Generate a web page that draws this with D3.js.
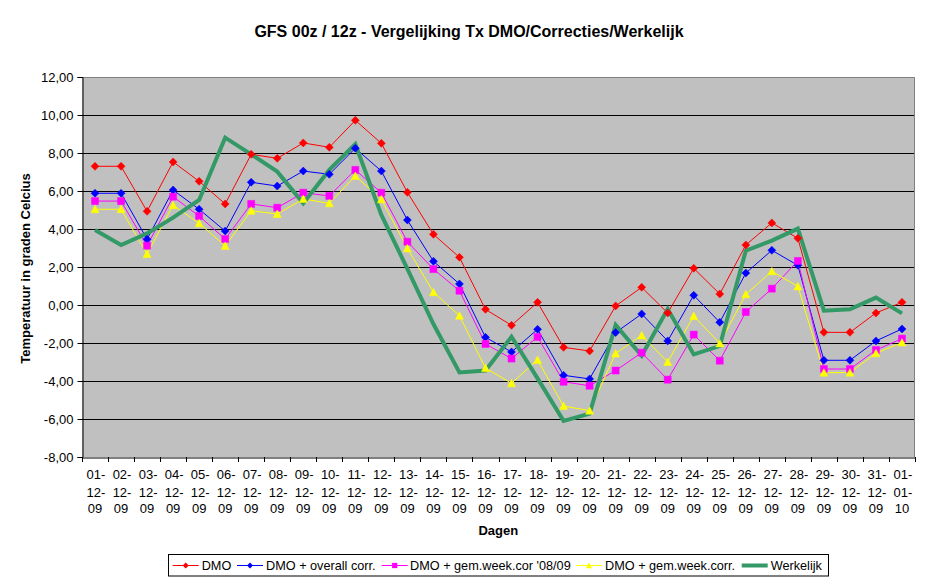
<!DOCTYPE html>
<html><head><meta charset="utf-8">
<script src="https://cdn.jsdelivr.net/npm/d3@7"></script>
<style>
body{margin:0;background:#fff;}
svg{display:block;font-family:"Liberation Sans",Arial,sans-serif;}
</style></head>
<body><svg id="c" width="942" height="585"></svg>
<script>
const days = ["01-12-09","02-12-09","03-12-09","04-12-09","05-12-09","06-12-09","07-12-09","08-12-09","09-12-09","10-12-09","11-12-09","12-12-09","13-12-09","14-12-09","15-12-09","16-12-09","17-12-09","18-12-09","19-12-09","20-12-09","21-12-09","22-12-09","23-12-09","24-12-09","25-12-09","26-12-09","27-12-09","28-12-09","29-12-09","30-12-09","31-12-09","01-01-10"];
const dmo = [7.30,7.30,4.93,7.53,6.51,5.32,7.93,7.72,8.53,8.30,9.72,8.51,5.93,3.72,2.51,-0.23,-1.07,0.14,-2.23,-2.42,-0.05,0.93,-0.42,1.93,0.58,3.16,4.32,3.51,-1.44,-1.44,-0.42,0.14];
const dmoOverall = [5.88,5.88,3.46,6.05,5.04,3.89,6.46,6.26,7.05,6.88,8.25,7.05,4.47,2.30,1.11,-1.70,-2.47,-1.28,-3.70,-3.89,-1.45,-0.47,-1.89,0.51,-0.91,1.68,2.88,2.09,-2.91,-2.91,-1.89,-1.26];
const dmoWeek0809 = [5.47,5.47,3.12,5.70,4.68,3.47,5.32,5.12,5.91,5.74,7.11,5.91,3.33,1.89,0.75,-2.05,-2.82,-1.68,-4.04,-4.25,-3.45,-2.51,-3.93,-1.56,-2.93,-0.37,0.86,2.32,-3.37,-3.37,-2.37,-1.77];
const dmoWeek = [5.04,5.04,2.68,5.25,4.30,3.11,4.96,4.79,5.58,5.35,6.79,5.56,2.98,0.67,-0.56,-3.32,-4.12,-2.89,-5.32,-5.56,-2.55,-1.60,-3.00,-0.58,-2.02,0.56,1.77,0.98,-3.56,-3.56,-2.54,-1.98];
const werkelijk = [3.95,3.16,3.77,4.60,5.53,8.81,7.93,7.02,5.35,7.11,8.47,4.74,1.90,-1.00,-3.55,-3.45,-1.67,-3.86,-6.10,-5.72,-1.05,-2.67,-0.21,-2.60,-2.16,2.86,3.39,4.02,-0.30,-0.23,0.39,-0.44];
const yTicks = [12,10,8,6,4,2,0,-2,-4,-6,-8];
const seriesNames = ["DMO","DMO + overall corr.","DMO + gem.week.cor '08/09","DMO + gem.week.corr.","Werkelijk"];

const series = [
  {name:seriesNames[0], values:dmo, color:"#FF0000", marker:"diamond", width:1},
  {name:seriesNames[1], values:dmoOverall, color:"#0000FF", marker:"diamond", width:1},
  {name:seriesNames[2], values:dmoWeek0809, color:"#FF00FF", marker:"square", width:1},
  {name:seriesNames[3], values:dmoWeek, color:"#FFFF00", marker:"triangle", width:1},
  {name:seriesNames[4], values:werkelijk, color:"#339966", marker:null, width:4}
];

const svg = d3.select("#c");
const L=82, R=915, T=77, B=457;
const x = d3.scaleBand().domain(days).range([L,R]);
const y = d3.scaleLinear().domain([-8,12]).range([B,T]);
const cx = d => x(d)+x.bandwidth()/2;
const FS = "13px";

// plot background
svg.append("rect").attr("x",L).attr("y",T).attr("width",R-L).attr("height",B-T).attr("fill","#C0C0C0");
// gridlines
svg.append("g").selectAll("line").data(yTicks.filter(v=>v!==-8 && v!==12)).join("line")
  .attr("x1",L).attr("x2",R).attr("y1",d=>Math.round(y(d))+0.5).attr("y2",d=>Math.round(y(d))+0.5)
  .attr("stroke","#000").attr("stroke-width",1);
// border top/right
svg.append("path").attr("d",`M${L},${T+0.5}H${R-0.5}V${B}`).attr("fill","none").attr("stroke","#808080").attr("stroke-width",1);

// y axis
const yAxis = d3.axisLeft(y).tickValues(yTicks).tickSize(5).tickPadding(4)
  .tickFormat(d=>d3.format(".2f")(d).replace(".",",").replace("−","-"));
const gy = svg.append("g").attr("transform",`translate(${L+0.5},0)`).call(yAxis);
gy.select(".domain").attr("stroke","#000");
gy.selectAll(".tick line").attr("stroke","#000");
gy.selectAll("text").attr("font-size",FS).attr("fill","#000").attr("font-family","Liberation Sans, Arial, sans-serif");

// x axis
const xAxis = d3.axisBottom(x).tickSize(0).tickFormat("");
const gx = svg.append("g").attr("transform",`translate(0,${B+0.5})`).call(xAxis);
gx.select(".domain").attr("stroke","#000");
// category boundary ticks
svg.append("g").selectAll("line").data(days.concat(["end"])).join("line")
  .attr("x1",(d,i)=>Math.round(i<days.length?x(d):R)+0.5).attr("x2",(d,i)=>Math.round(i<days.length?x(d):R)+0.5)
  .attr("y1",B).attr("y2",B+5).attr("stroke","#000");
// multi-line tick labels
const xl = svg.append("g").attr("font-size",FS).attr("fill","#000").attr("text-anchor","middle");
days.forEach(d=>{
  const parts = d.split("-");
  const t = xl.append("text").attr("x",cx(d));
  t.append("tspan").attr("x",cx(d)+1).attr("y",479).text(parts[0]+"-");
  t.append("tspan").attr("x",cx(d)+1).attr("y",496.5).text(parts[1]+"-");
  t.append("tspan").attr("x",cx(d)).attr("y",513).text(parts[2]);
});

// lines
const line = d3.line().x((v,i)=>cx(days[i])).y(v=>y(v));
series.forEach(s=>{
  svg.append("path").datum(s.values).attr("d",line).attr("fill","none")
    .attr("stroke",s.color).attr("stroke-width",s.width).attr("stroke-linejoin","miter");
});
function markerPath(type){
  if(type==="diamond") return "M0,-4L4,0L0,4L-4,0Z";
  if(type==="square") return "M-3.5,-3.5H3.5V3.5H-3.5Z";
  if(type==="triangle") return "M0,-4L4,3.5H-4Z";
  return null;
}
series.forEach(s=>{
  if(!s.marker) return;
  svg.append("g").selectAll("path").data(s.values).join("path")
    .attr("transform",(v,i)=>`translate(${cx(days[i])},${y(v)})`)
    .attr("d",markerPath(s.marker)).attr("fill",s.color).attr("stroke",s.color).attr("stroke-width",0.5);
});

// title
svg.append("text").attr("x",469).attr("y",36.5).attr("text-anchor","middle")
  .attr("font-size","16px").attr("font-weight","bold").text("GFS 00z / 12z - Vergelijking Tx DMO/Correcties/Werkelijk");
// axis titles
svg.append("text").attr("transform","translate(29.5,268.5) rotate(-90)").attr("text-anchor","middle")
  .attr("font-size",FS).attr("font-weight","bold").text("Temperatuur in graden Celcius");
svg.append("text").attr("x",498.3).attr("y",535).attr("text-anchor","middle")
  .attr("font-size",FS).attr("font-weight","bold").text("Dagen");

// legend
const lg = svg.append("g");
lg.append("rect").attr("x",168.5).attr("y",554.5).attr("width",660).attr("height",21.5).attr("fill","#fff").attr("stroke","#000").attr("stroke-width",1);
const legLineX = [172.7,237,381.7,576,741.7];
const legTextX = [201.7,266,410,605,770.7];
series.forEach((s,i)=>{
  const gx0 = legLineX[i], ly = 565.5;
  lg.append("line").attr("x1",gx0).attr("x2",gx0+26).attr("y1",ly).attr("y2",ly).attr("stroke",s.color).attr("stroke-width",s.width);
  if(s.marker) lg.append("path").attr("d",markerPath(s.marker)).attr("fill",s.color).attr("transform",`translate(${gx0+13},${ly}) scale(0.75)`);
  lg.append("text").attr("x",legTextX[i]).attr("y",ly+4.5).attr("font-size","12.7px").text(s.name);
});
</script></body></html>
